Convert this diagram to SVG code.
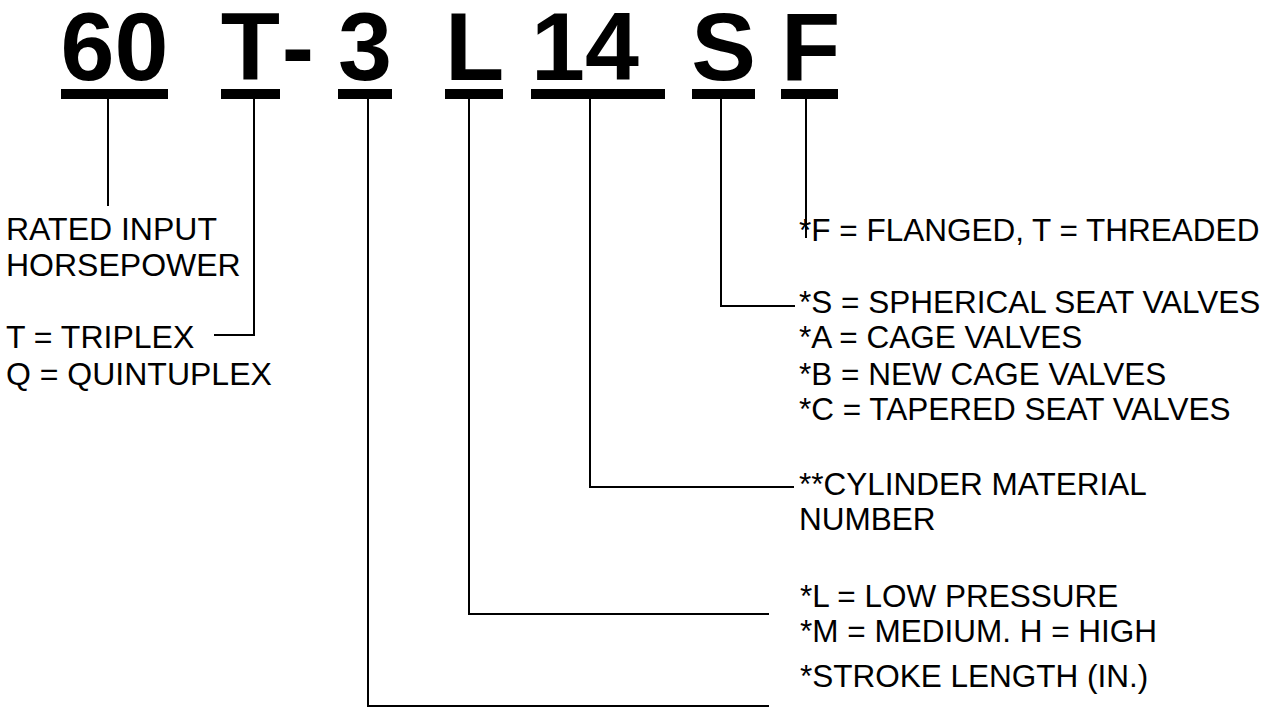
<svg xmlns="http://www.w3.org/2000/svg" width="1281" height="726" viewBox="0 0 1281 726">
<style>
.big{font-family:"Liberation Sans",Arial,sans-serif;font-weight:bold;font-size:97px;fill:#000}
.lbl{font-family:"Liberation Sans",Arial,sans-serif;font-size:32px;fill:#000}
.rl{font-size:31.5px}
.bar{fill:#000}
.con{fill:none;stroke:#000;stroke-width:2}
</style>
<rect width="1281" height="726" fill="#fff"/>
<g id="code-60"><text class="big" x="114.5" y="80" text-anchor="middle">60</text><rect class="bar" x="61" y="89" width="107" height="10"/></g>
<g id="code-T"><text class="big" x="250.5" y="80" text-anchor="middle">T</text><rect class="bar" x="221" y="89" width="59" height="10"/></g>
<g id="code-dash"><text class="big" x="298" y="80" text-anchor="middle">-</text></g>
<g id="code-3"><text class="big" x="365" y="80" text-anchor="middle">3</text><rect class="bar" x="338" y="89" width="54" height="10"/></g>
<g id="code-L"><text class="big" x="445" y="80">L</text><rect class="bar" x="445" y="89" width="58" height="10"/></g>
<g id="code-14"><text class="big" x="585" y="80" text-anchor="middle">14</text><rect class="bar" x="531" y="89" width="134" height="10"/></g>
<g id="code-S"><text class="big" x="723.5" y="80" text-anchor="middle">S</text><rect class="bar" x="692" y="89" width="63" height="10"/></g>
<g id="code-F"><text class="big" x="781" y="80">F</text><rect class="bar" x="781" y="89" width="57" height="10"/></g>
<g id="connectors">
<path class="con" d="M108 99 V206"/>
<path class="con" d="M254 99 V335 H214"/>
<path class="con" d="M368 99 V706 H769"/>
<path class="con" d="M469 99 V614 H769"/>
<path class="con" d="M590 99 V487 H794"/>
<path class="con" d="M721 99 V306 H795"/>
<path class="con" d="M806 99 V238"/>
</g>
<g id="label-hp"><text class="lbl" x="6" y="240">RATED INPUT</text><text class="lbl" x="6" y="276">HORSEPOWER</text></g>
<g id="label-type"><text class="lbl" x="6" y="348">T = TRIPLEX</text><text class="lbl" x="6" y="385">Q = QUINTUPLEX</text></g>
<g id="label-F"><text class="lbl rl" x="799" y="241">*F = FLANGED, T = THREADED</text></g>
<g id="label-S"><text class="lbl rl" x="799" y="313">*S = SPHERICAL SEAT VALVES</text><text class="lbl rl" x="799" y="348">*A = CAGE VALVES</text><text class="lbl rl" x="799" y="385">*B = NEW CAGE VALVES</text><text class="lbl rl" x="799" y="420">*C = TAPERED SEAT VALVES</text></g>
<g id="label-14"><text class="lbl rl" x="799" y="495">**CYLINDER MATERIAL</text><text class="lbl rl" x="799" y="530">NUMBER</text></g>
<g id="label-L"><text class="lbl rl" x="800" y="607">*L = LOW PRESSURE</text><text class="lbl rl" x="800" y="642">*M = MEDIUM. H = HIGH</text></g>
<g id="label-3"><text class="lbl rl" x="800" y="687">*STROKE LENGTH (IN.)</text></g>
</svg>
